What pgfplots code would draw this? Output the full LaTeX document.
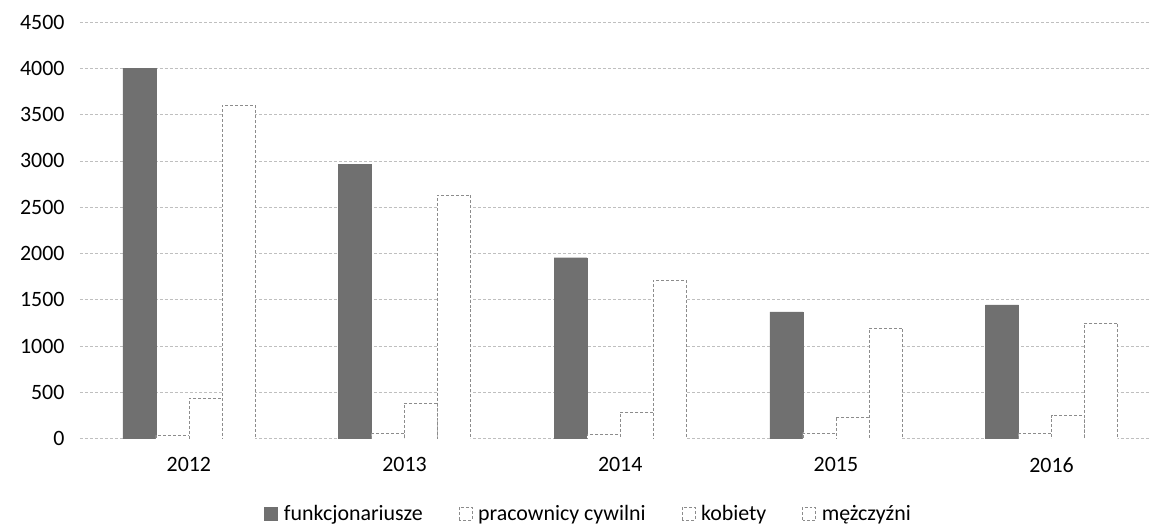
\documentclass[border=0pt]{standalone}
\usepackage{pgfplots}
\pgfplotsset{compat=1.18}
\usepackage{fontspec}
\setmainfont{Carlito}
\definecolor{funk}{RGB}{112,112,112}
\definecolor{grid}{RGB}{120,120,120}
\definecolor{edge}{RGB}{140,140,140}
\begin{document}
\begin{tikzpicture}
\begin{axis}[
  scale only axis,
  width=1069bp, height=417bp,
  xmin=-0.505, xmax=4.45,
  ymin=0, ymax=4500,
  ytick={0,500,...,4500},
  xtick={0,1,2,3,4},
  xticklabels={2012,2013,2014,2015,2016},
  ybar=0pt, bar width=33bp,
  axis line style={draw=none},
  major tick length=0pt,
  xmajorgrids=false,
  ymajorgrids=true,
  major grid style={grid, densely dashed, line width=0.8pt},
  /pgf/number format/1000 sep={},
  /pgf/number format/assume math mode=true,
  yticklabel style={font=\fontsize{22}{24}\selectfont, xshift=-12bp},
  xticklabel style={font=\fontsize{22}{24}\selectfont, yshift=-15bp},
  legend style={at={(0.476,-0.18)}, anchor=center, draw=none, legend columns=4,
    font=\fontsize{22}{24}\selectfont,
    /tikz/every odd column/.append style={column sep=4bp},
    /tikz/every even column/.append style={column sep=34bp}},
  legend image code/.code={\draw[#1] (0bp,-6bp) rectangle (13bp,7bp);},
]
\addplot[fill=funk, draw=funk] coordinates {(0,4000) (1,2960) (2,1955) (3,1371) (4,1447)};
\addplot[fill=white, draw=edge, densely dashed] coordinates {(0,40) (1,65) (2,52) (3,66) (4,65)};
\addplot[fill=white, draw=edge, densely dashed] coordinates {(0,440) (1,390) (2,290) (3,238) (4,259)};
\addplot[fill=white, draw=edge, densely dashed] coordinates {(0,3600) (1,2635) (2,1717) (3,1199) (4,1253)};
\legend{funkcjonariusze, pracownicy cywilni, kobiety, mężczyźni}
\end{axis}
\path[use as bounding box] (current axis.south west) ++(-80bp,-89bp) rectangle ++(1149bp,528bp);
\end{tikzpicture}
\end{document}
